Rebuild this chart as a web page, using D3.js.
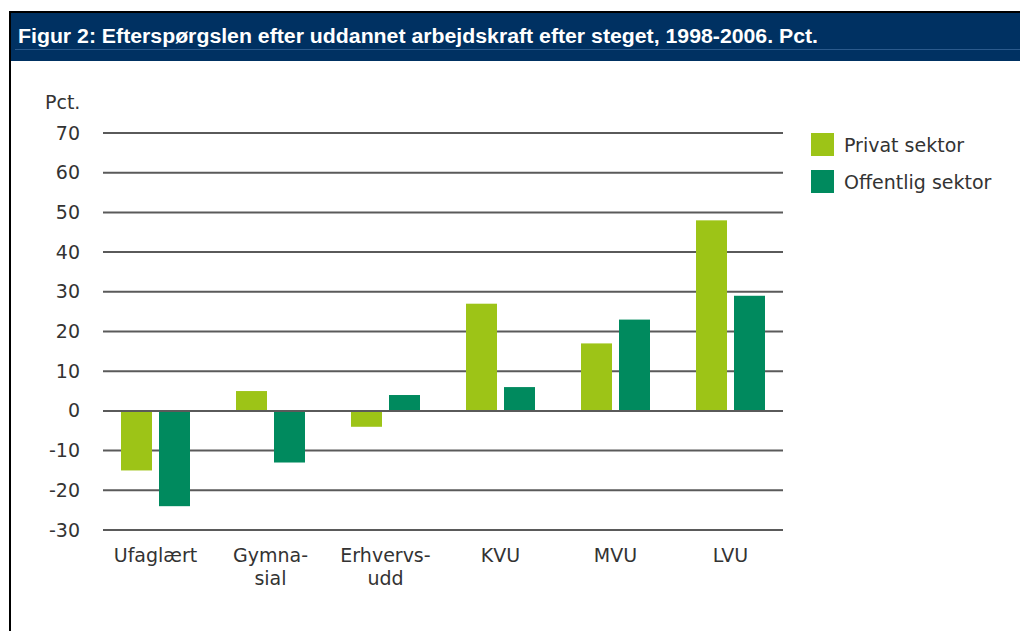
<!DOCTYPE html>
<html>
<head>
<meta charset="utf-8">
<script src="https://cdn.jsdelivr.net/npm/d3@7"></script>
<style>
  html, body { margin: 0; padding: 0; background: #fff; }
  svg { display: block; }
</style>
</head>
<body>
<svg id="chart" width="1020" height="631"></svg>
<script>
const title = "Figur 2: Efterspørgslen efter uddannet arbejdskraft efter steget, 1998-2006. Pct.";
const categories = ["Ufaglært", "Gymna-\nsial", "Erhvervs-\nudd", "KVU", "MVU", "LVU"];
const seriesNames = ["Privat sektor", "Offentlig sektor"];
const privat = [-15, 5, -4, 27, 17, 48];
const offentlig = [-24, -13, 4, 6, 23, 29];
const yTicks = [70, 60, 50, 40, 30, 20, 10, 0, -10, -20, -30];
const colors = ["#9dc417", "#008a5e"];

const svg = d3.select("#chart");
const font = "'DejaVu Sans', Verdana, sans-serif";
const fs = 19;

// frame + header
svg.append("rect").attr("x", 9).attr("y", 11).attr("width", 1011).attr("height", 2).attr("fill", "#000");
svg.append("rect").attr("x", 9).attr("y", 11).attr("width", 2).attr("height", 620).attr("fill", "#000");
svg.append("rect").attr("x", 11).attr("y", 13).attr("width", 1009).attr("height", 48).attr("fill", "#003162");
svg.append("rect").attr("x", 15).attr("y", 49).attr("width", 1005).attr("height", 1).attr("fill", "#2b5a8c");
svg.append("text").attr("x", 18).attr("y", 43)
  .attr("font-family", "'Liberation Sans', Arial, sans-serif")
  .attr("font-weight", "bold").attr("font-size", 20).attr("fill", "#fff")
  .attr("textLength", 800).attr("lengthAdjust", "spacingAndGlyphs")
  .text(title);

const y = d3.scaleLinear().domain([-30, 70]).range([530, 133]);
const x0 = d3.scaleBand().domain(categories).range([98, 788]);

// gridlines
svg.append("g").selectAll("line").data(yTicks).join("line")
  .attr("x1", 103).attr("x2", 783)
  .attr("y1", d => y(d)).attr("y2", d => y(d))
  .attr("stroke", "#5a5a5a").attr("stroke-width", 2);

// y tick labels via axis
const ax = svg.append("g").attr("transform", "translate(103,0)")
  .call(d3.axisLeft(y).tickValues(yTicks).tickSize(0).tickPadding(23).tickFormat(d => String(d)));
ax.select(".domain").remove();
ax.selectAll("text").attr("font-family", font).attr("font-size", fs).attr("fill", "#333");

svg.append("text").attr("x", 45).attr("y", 109)
  .attr("font-family", font).attr("font-size", fs).attr("fill", "#333").text("Pct.");

// bars
const data = categories.map((c, i) => ({ cat: c, vals: [privat[i], offentlig[i]] }));
const groups = svg.append("g").selectAll("g").data(data).join("g")
  .attr("transform", d => `translate(${x0(d.cat)},0)`);
const bw = 31;
groups.selectAll("rect").data(d => d.vals.map((v, j) => ({ v, j }))).join("rect")
  .attr("x", d => x0.bandwidth() / 2 - 34.5 + d.j * 38)
  .attr("width", bw)
  .attr("y", d => y(Math.max(0, d.v)))
  .attr("height", d => Math.abs(y(d.v) - y(0)))
  .attr("fill", d => colors[d.j]);

// zero line over bars
svg.append("line").attr("x1", 103).attr("x2", 783).attr("y1", y(0)).attr("y2", y(0))
  .attr("stroke", "#5a5a5a").attr("stroke-width", 2);

// x labels
const xl = svg.append("g").selectAll("text").data(categories).join("text")
  .attr("x", d => x0(d) + x0.bandwidth() / 2)
  .attr("y", 562)
  .attr("text-anchor", "middle")
  .attr("font-family", font).attr("font-size", fs).attr("fill", "#333");
xl.selectAll("tspan").data(d => d.split("\n")).join("tspan")
  .attr("x", function() { return this.parentNode.getAttribute("x"); })
  .attr("dy", (d, i) => i === 0 ? 0 : 23)
  .text(d => d);

// legend
const lg = svg.append("g").selectAll("g").data(seriesNames).join("g")
  .attr("transform", (d, i) => `translate(811,${133 + i * 37})`);
lg.append("rect").attr("width", 23).attr("height", 23).attr("fill", (d, i) => colors[i]);
lg.append("text").attr("x", 33).attr("y", 19)
  .attr("font-family", font).attr("font-size", fs).attr("fill", "#333").text(d => d);
</script>
</body>
</html>
